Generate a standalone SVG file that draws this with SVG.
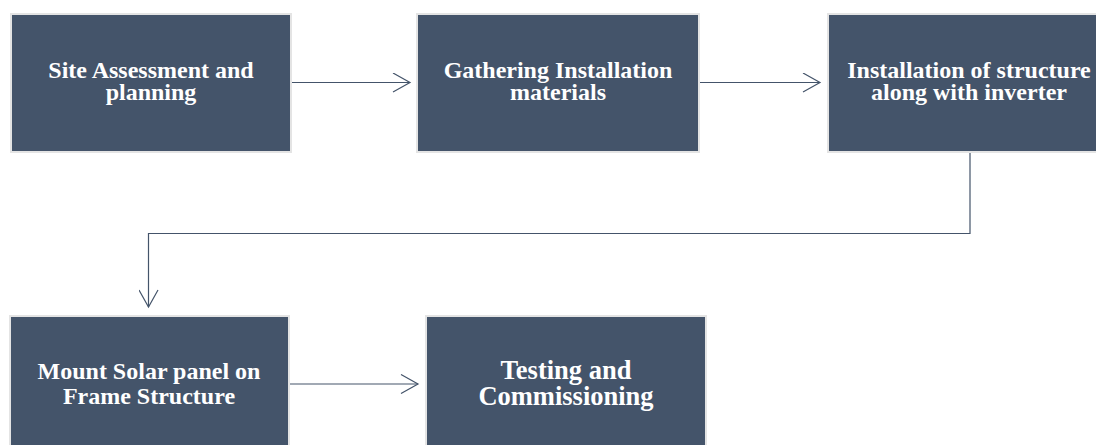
<svg xmlns="http://www.w3.org/2000/svg" width="1096" height="445" viewBox="0 0 1096 445">
<defs>
<marker id="open" viewBox="0 0 20 20" refX="18" refY="10" markerWidth="20" markerHeight="20" markerUnits="userSpaceOnUse" orient="auto">
<path d="M1,0.5 L18,10 L1,19.5" fill="none" stroke="#44546a" stroke-width="1.2"/>
</marker>
</defs>
<style>
.box{fill:#44546a;stroke:#e4e4e4;stroke-width:2}
.lbl{font-family:"Liberation Serif","Times New Roman",serif;font-weight:bold;fill:#ffffff;text-anchor:middle}
.conn{fill:none;stroke:#44546a;stroke-width:1.2}
</style>
<rect width="1096" height="445" fill="#ffffff"/>
<g id="connectors">
<path class="conn" d="M292,82.5 L410,82.5" marker-end="url(#open)"/>
<path class="conn" d="M700,82.5 L820,82.5" marker-end="url(#open)"/>
<path class="conn" d="M970,153 L970,233.5 L148.5,233.5 L148.5,307" marker-end="url(#open)"/>
<path class="conn" d="M290,384 L418,384" marker-end="url(#open)"/>
</g>
<g id="node1">
<rect class="box" x="11" y="14" width="280" height="138"/>
<text class="lbl" font-size="24"><tspan x="151" y="78">Site Assessment and</tspan><tspan x="151" y="100">planning</tspan></text>
</g>
<g id="node2">
<rect class="box" x="417" y="14" width="282" height="138"/>
<text class="lbl" font-size="24"><tspan x="558" y="78">Gathering Installation</tspan><tspan x="558" y="100">materials</tspan></text>
</g>
<g id="node3">
<rect class="box" x="828" y="14" width="282" height="138"/>
<text class="lbl" font-size="24"><tspan x="969" y="78">Installation of structure</tspan><tspan x="969" y="100">along with inverter</tspan></text>
</g>
<g id="node4">
<rect class="box" x="10" y="316" width="279" height="140"/>
<text class="lbl" font-size="24"><tspan x="149" y="379">Mount Solar panel on</tspan><tspan x="149" y="404">Frame Structure</tspan></text>
</g>
<g id="node5">
<rect class="box" x="426" y="316" width="280" height="140"/>
<text class="lbl" font-size="26.5"><tspan x="566" y="379">Testing and</tspan><tspan x="566" y="405">Commissioning</tspan></text>
</g>
</svg>
